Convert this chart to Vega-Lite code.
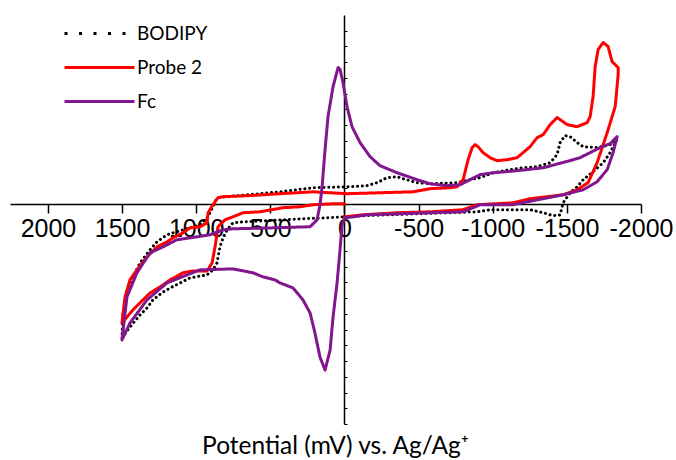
{
  "$schema": "https://vega.github.io/schema/vega-lite/v6.json",
  "width": 631,
  "height": 409,
  "autosize": {"type": "none"},
  "padding": {"left": 10, "top": 15, "right": 35, "bottom": 36},
  "background": "white",
  "config": {"view": {"stroke": null}, "font": "Liberation Sans"},
  "title": {
    "text": "Potential (mV) vs. Ag/Ag⁺",
    "orient": "bottom",
    "anchor": "middle",
    "dx": 10,
    "offset": 10,
    "font": "Lato",
    "fontSize": 24.5,
    "fontWeight": "normal",
    "color": "#000000"
  },
  "data": {
    "values": [
      {"s": "BODIPY", "i": 1, "E": 0, "I": -0.83},
      {"s": "BODIPY", "i": 2, "E": -125, "I": -0.76},
      {"s": "BODIPY", "i": 3, "E": -490, "I": -0.64},
      {"s": "BODIPY", "i": 4, "E": -894, "I": -0.51},
      {"s": "BODIPY", "i": 5, "E": -982, "I": -0.38},
      {"s": "BODIPY", "i": 6, "E": -1252, "I": -0.38},
      {"s": "BODIPY", "i": 7, "E": -1340, "I": -0.57},
      {"s": "BODIPY", "i": 8, "E": -1387, "I": -0.70},
      {"s": "BODIPY", "i": 9, "E": -1434, "I": -0.76},
      {"s": "BODIPY", "i": 10, "E": -1454, "I": -0.70},
      {"s": "BODIPY", "i": 11, "E": -1475, "I": 0.06},
      {"s": "BODIPY", "i": 12, "E": -1488, "I": 0.25},
      {"s": "BODIPY", "i": 13, "E": -1522, "I": 0.70},
      {"s": "BODIPY", "i": 14, "E": -1569, "I": 1.08},
      {"s": "BODIPY", "i": 15, "E": -1610, "I": 1.53},
      {"s": "BODIPY", "i": 16, "E": -1677, "I": 2.04},
      {"s": "BODIPY", "i": 17, "E": -1745, "I": 2.61},
      {"s": "BODIPY", "i": 18, "E": -1792, "I": 3.25},
      {"s": "BODIPY", "i": 19, "E": -1826, "I": 3.89},
      {"s": "BODIPY", "i": 20, "E": -1839, "I": 4.08},
      {"s": "BODIPY", "i": 21, "E": -1792, "I": 3.76},
      {"s": "BODIPY", "i": 22, "E": -1704, "I": 3.57},
      {"s": "BODIPY", "i": 23, "E": -1610, "I": 3.63},
      {"s": "BODIPY", "i": 24, "E": -1569, "I": 3.89},
      {"s": "BODIPY", "i": 25, "E": -1522, "I": 4.27},
      {"s": "BODIPY", "i": 26, "E": -1488, "I": 4.33},
      {"s": "BODIPY", "i": 27, "E": -1454, "I": 3.89},
      {"s": "BODIPY", "i": 28, "E": -1434, "I": 3.12},
      {"s": "BODIPY", "i": 29, "E": -1387, "I": 2.61},
      {"s": "BODIPY", "i": 30, "E": -1299, "I": 2.36},
      {"s": "BODIPY", "i": 31, "E": -1205, "I": 2.29},
      {"s": "BODIPY", "i": 32, "E": -1117, "I": 2.17},
      {"s": "BODIPY", "i": 33, "E": -1002, "I": 1.97},
      {"s": "BODIPY", "i": 34, "E": -915, "I": 1.66},
      {"s": "BODIPY", "i": 35, "E": -847, "I": 1.53},
      {"s": "BODIPY", "i": 36, "E": -760, "I": 1.34},
      {"s": "BODIPY", "i": 37, "E": -577, "I": 1.27},
      {"s": "BODIPY", "i": 38, "E": -490, "I": 1.34},
      {"s": "BODIPY", "i": 39, "E": -395, "I": 1.59},
      {"s": "BODIPY", "i": 40, "E": -355, "I": 1.72},
      {"s": "BODIPY", "i": 41, "E": -287, "I": 1.66},
      {"s": "BODIPY", "i": 42, "E": -220, "I": 1.34},
      {"s": "BODIPY", "i": 43, "E": -152, "I": 1.15},
      {"s": "BODIPY", "i": 44, "E": -38, "I": 1.08},
      {"s": "BODIPY", "i": 45, "E": 212, "I": 1.02},
      {"s": "BODIPY", "i": 46, "E": 435, "I": 0.76},
      {"s": "BODIPY", "i": 47, "E": 657, "I": 0.57},
      {"s": "BODIPY", "i": 48, "E": 792, "I": 0.45},
      {"s": "BODIPY", "i": 49, "E": 860, "I": 0.38},
      {"s": "BODIPY", "i": 50, "E": 907, "I": -0.57},
      {"s": "BODIPY", "i": 51, "E": 927, "I": -0.89},
      {"s": "BODIPY", "i": 52, "E": 974, "I": -1.34},
      {"s": "BODIPY", "i": 53, "E": 1089, "I": -1.66},
      {"s": "BODIPY", "i": 54, "E": 1197, "I": -1.97},
      {"s": "BODIPY", "i": 55, "E": 1265, "I": -2.42},
      {"s": "BODIPY", "i": 56, "E": 1312, "I": -2.93},
      {"s": "BODIPY", "i": 57, "E": 1379, "I": -3.76},
      {"s": "BODIPY", "i": 58, "E": 1427, "I": -4.65},
      {"s": "BODIPY", "i": 59, "E": 1467, "I": -5.48},
      {"s": "BODIPY", "i": 60, "E": 1494, "I": -6.94},
      {"s": "BODIPY", "i": 61, "E": 1501, "I": -8.54},
      {"s": "BODIPY", "i": 62, "E": 1447, "I": -7.83},
      {"s": "BODIPY", "i": 63, "E": 1379, "I": -7.07},
      {"s": "BODIPY", "i": 64, "E": 1332, "I": -6.62},
      {"s": "BODIPY", "i": 65, "E": 1292, "I": -6.11},
      {"s": "BODIPY", "i": 66, "E": 1224, "I": -5.61},
      {"s": "BODIPY", "i": 67, "E": 1163, "I": -5.29},
      {"s": "BODIPY", "i": 68, "E": 1109, "I": -5.03},
      {"s": "BODIPY", "i": 69, "E": 1042, "I": -4.71},
      {"s": "BODIPY", "i": 70, "E": 927, "I": -4.52},
      {"s": "BODIPY", "i": 71, "E": 887, "I": -4.20},
      {"s": "BODIPY", "i": 72, "E": 860, "I": -3.76},
      {"s": "BODIPY", "i": 73, "E": 840, "I": -2.74},
      {"s": "BODIPY", "i": 74, "E": 819, "I": -2.17},
      {"s": "BODIPY", "i": 75, "E": 792, "I": -1.66},
      {"s": "BODIPY", "i": 76, "E": 752, "I": -1.21},
      {"s": "BODIPY", "i": 77, "E": 684, "I": -1.15},
      {"s": "BODIPY", "i": 78, "E": 522, "I": -1.08},
      {"s": "BODIPY", "i": 79, "E": 300, "I": -0.96},
      {"s": "BODIPY", "i": 80, "E": 118, "I": -0.89},
      {"s": "BODIPY", "i": 81, "E": 0, "I": -0.83},

      {"s": "Probe 2", "i": 1, "E": 0, "I": -0.83},
      {"s": "Probe 2", "i": 2, "E": -125, "I": -0.70},
      {"s": "Probe 2", "i": 3, "E": -355, "I": -0.57},
      {"s": "Probe 2", "i": 4, "E": -577, "I": -0.51},
      {"s": "Probe 2", "i": 5, "E": -800, "I": -0.38},
      {"s": "Probe 2", "i": 6, "E": -894, "I": -0.06},
      {"s": "Probe 2", "i": 7, "E": -1137, "I": 0.06},
      {"s": "Probe 2", "i": 8, "E": -1252, "I": 0.32},
      {"s": "Probe 2", "i": 9, "E": -1475, "I": 0.57},
      {"s": "Probe 2", "i": 10, "E": -1569, "I": 0.89},
      {"s": "Probe 2", "i": 11, "E": -1643, "I": 1.34},
      {"s": "Probe 2", "i": 12, "E": -1704, "I": 2.61},
      {"s": "Probe 2", "i": 13, "E": -1772, "I": 4.52},
      {"s": "Probe 2", "i": 14, "E": -1826, "I": 6.18},
      {"s": "Probe 2", "i": 15, "E": -1846, "I": 8.22},
      {"s": "Probe 2", "i": 16, "E": -1846, "I": 8.66},
      {"s": "Probe 2", "i": 17, "E": -1805, "I": 9.04},
      {"s": "Probe 2", "i": 18, "E": -1778, "I": 10.0},
      {"s": "Probe 2", "i": 19, "E": -1745, "I": 10.25},
      {"s": "Probe 2", "i": 20, "E": -1711, "I": 9.81},
      {"s": "Probe 2", "i": 21, "E": -1691, "I": 8.73},
      {"s": "Probe 2", "i": 22, "E": -1677, "I": 6.82},
      {"s": "Probe 2", "i": 23, "E": -1657, "I": 5.54},
      {"s": "Probe 2", "i": 24, "E": -1637, "I": 5.16},
      {"s": "Probe 2", "i": 25, "E": -1569, "I": 4.90},
      {"s": "Probe 2", "i": 26, "E": -1502, "I": 5.03},
      {"s": "Probe 2", "i": 27, "E": -1454, "I": 5.35},
      {"s": "Probe 2", "i": 28, "E": -1434, "I": 5.48},
      {"s": "Probe 2", "i": 29, "E": -1387, "I": 5.03},
      {"s": "Probe 2", "i": 30, "E": -1340, "I": 4.39},
      {"s": "Probe 2", "i": 31, "E": -1299, "I": 4.20},
      {"s": "Probe 2", "i": 32, "E": -1252, "I": 3.63},
      {"s": "Probe 2", "i": 33, "E": -1205, "I": 3.25},
      {"s": "Probe 2", "i": 34, "E": -1164, "I": 2.93},
      {"s": "Probe 2", "i": 35, "E": -1097, "I": 2.80},
      {"s": "Probe 2", "i": 36, "E": -1029, "I": 2.74},
      {"s": "Probe 2", "i": 37, "E": -982, "I": 2.93},
      {"s": "Probe 2", "i": 38, "E": -935, "I": 3.25},
      {"s": "Probe 2", "i": 39, "E": -901, "I": 3.63},
      {"s": "Probe 2", "i": 40, "E": -881, "I": 3.76},
      {"s": "Probe 2", "i": 41, "E": -861, "I": 3.57},
      {"s": "Probe 2", "i": 42, "E": -834, "I": 2.80},
      {"s": "Probe 2", "i": 43, "E": -800, "I": 1.53},
      {"s": "Probe 2", "i": 44, "E": -760, "I": 1.08},
      {"s": "Probe 2", "i": 45, "E": -712, "I": 1.02},
      {"s": "Probe 2", "i": 46, "E": -577, "I": 0.96},
      {"s": "Probe 2", "i": 47, "E": -463, "I": 0.76},
      {"s": "Probe 2", "i": 48, "E": -240, "I": 0.70},
      {"s": "Probe 2", "i": 49, "E": -17, "I": 0.64},
      {"s": "Probe 2", "i": 50, "E": 212, "I": 0.76},
      {"s": "Probe 2", "i": 51, "E": 320, "I": 0.70},
      {"s": "Probe 2", "i": 52, "E": 435, "I": 0.64},
      {"s": "Probe 2", "i": 53, "E": 657, "I": 0.51},
      {"s": "Probe 2", "i": 54, "E": 819, "I": 0.45},
      {"s": "Probe 2", "i": 55, "E": 853, "I": 0.38},
      {"s": "Probe 2", "i": 56, "E": 887, "I": -0.06},
      {"s": "Probe 2", "i": 57, "E": 920, "I": -0.57},
      {"s": "Probe 2", "i": 58, "E": 927, "I": -1.21},
      {"s": "Probe 2", "i": 59, "E": 974, "I": -1.46},
      {"s": "Probe 2", "i": 60, "E": 1042, "I": -1.53},
      {"s": "Probe 2", "i": 61, "E": 1089, "I": -1.85},
      {"s": "Probe 2", "i": 62, "E": 1157, "I": -2.17},
      {"s": "Probe 2", "i": 63, "E": 1197, "I": -2.42},
      {"s": "Probe 2", "i": 64, "E": 1265, "I": -2.74},
      {"s": "Probe 2", "i": 65, "E": 1332, "I": -3.38},
      {"s": "Probe 2", "i": 66, "E": 1400, "I": -4.20},
      {"s": "Probe 2", "i": 67, "E": 1447, "I": -4.84},
      {"s": "Probe 2", "i": 68, "E": 1480, "I": -5.92},
      {"s": "Probe 2", "i": 69, "E": 1501, "I": -7.58},
      {"s": "Probe 2", "i": 70, "E": 1467, "I": -7.20},
      {"s": "Probe 2", "i": 71, "E": 1427, "I": -6.75},
      {"s": "Probe 2", "i": 72, "E": 1359, "I": -6.11},
      {"s": "Probe 2", "i": 73, "E": 1312, "I": -5.67},
      {"s": "Probe 2", "i": 74, "E": 1244, "I": -5.29},
      {"s": "Probe 2", "i": 75, "E": 1177, "I": -4.84},
      {"s": "Probe 2", "i": 76, "E": 1089, "I": -4.39},
      {"s": "Probe 2", "i": 77, "E": 1022, "I": -4.27},
      {"s": "Probe 2", "i": 78, "E": 927, "I": -4.27},
      {"s": "Probe 2", "i": 79, "E": 893, "I": -3.76},
      {"s": "Probe 2", "i": 80, "E": 873, "I": -2.74},
      {"s": "Probe 2", "i": 81, "E": 853, "I": -1.46},
      {"s": "Probe 2", "i": 82, "E": 806, "I": -1.02},
      {"s": "Probe 2", "i": 83, "E": 752, "I": -0.83},
      {"s": "Probe 2", "i": 84, "E": 684, "I": -0.57},
      {"s": "Probe 2", "i": 85, "E": 570, "I": -0.51},
      {"s": "Probe 2", "i": 86, "E": 414, "I": -0.25},
      {"s": "Probe 2", "i": 87, "E": 300, "I": -0.19},
      {"s": "Probe 2", "i": 88, "E": 212, "I": -0.06},
      {"s": "Probe 2", "i": 89, "E": 77, "I": 0},
      {"s": "Probe 2", "i": 90, "E": 0, "I": 0},

      {"s": "Fc", "i": 1, "E": -4, "I": -0.89},
      {"s": "Fc", "i": 2, "E": -58, "I": -0.83},
      {"s": "Fc", "i": 3, "E": -152, "I": -0.70},
      {"s": "Fc", "i": 4, "E": -355, "I": -0.64},
      {"s": "Fc", "i": 5, "E": -577, "I": -0.57},
      {"s": "Fc", "i": 6, "E": -800, "I": -0.51},
      {"s": "Fc", "i": 7, "E": -867, "I": -0.25},
      {"s": "Fc", "i": 8, "E": -915, "I": -0.06},
      {"s": "Fc", "i": 9, "E": -1137, "I": -0.06},
      {"s": "Fc", "i": 10, "E": -1299, "I": 0.25},
      {"s": "Fc", "i": 11, "E": -1475, "I": 0.57},
      {"s": "Fc", "i": 12, "E": -1610, "I": 0.89},
      {"s": "Fc", "i": 13, "E": -1704, "I": 1.40},
      {"s": "Fc", "i": 14, "E": -1772, "I": 2.17},
      {"s": "Fc", "i": 15, "E": -1812, "I": 3.25},
      {"s": "Fc", "i": 16, "E": -1839, "I": 4.27},
      {"s": "Fc", "i": 17, "E": -1792, "I": 3.82},
      {"s": "Fc", "i": 18, "E": -1724, "I": 3.57},
      {"s": "Fc", "i": 19, "E": -1657, "I": 3.25},
      {"s": "Fc", "i": 20, "E": -1589, "I": 2.93},
      {"s": "Fc", "i": 21, "E": -1522, "I": 2.74},
      {"s": "Fc", "i": 22, "E": -1340, "I": 2.29},
      {"s": "Fc", "i": 23, "E": -1164, "I": 2.10},
      {"s": "Fc", "i": 24, "E": -1002, "I": 1.97},
      {"s": "Fc", "i": 25, "E": -915, "I": 1.85},
      {"s": "Fc", "i": 26, "E": -847, "I": 1.53},
      {"s": "Fc", "i": 27, "E": -780, "I": 1.21},
      {"s": "Fc", "i": 28, "E": -692, "I": 1.15},
      {"s": "Fc", "i": 29, "E": -577, "I": 1.27},
      {"s": "Fc", "i": 30, "E": -490, "I": 1.53},
      {"s": "Fc", "i": 31, "E": -355, "I": 1.97},
      {"s": "Fc", "i": 32, "E": -240, "I": 2.42},
      {"s": "Fc", "i": 33, "E": -173, "I": 2.99},
      {"s": "Fc", "i": 34, "E": -105, "I": 3.89},
      {"s": "Fc", "i": 35, "E": -51, "I": 4.90},
      {"s": "Fc", "i": 36, "E": -17, "I": 6.18},
      {"s": "Fc", "i": 37, "E": 10, "I": 7.71},
      {"s": "Fc", "i": 38, "E": 30, "I": 8.54},
      {"s": "Fc", "i": 39, "E": 43, "I": 8.66},
      {"s": "Fc", "i": 40, "E": 77, "I": 7.45},
      {"s": "Fc", "i": 41, "E": 111, "I": 5.54},
      {"s": "Fc", "i": 42, "E": 131, "I": 3.44},
      {"s": "Fc", "i": 43, "E": 151, "I": 1.08},
      {"s": "Fc", "i": 44, "E": 165, "I": -0.06},
      {"s": "Fc", "i": 45, "E": 185, "I": -1.02},
      {"s": "Fc", "i": 46, "E": 232, "I": -1.46},
      {"s": "Fc", "i": 47, "E": 482, "I": -1.53},
      {"s": "Fc", "i": 48, "E": 752, "I": -1.59},
      {"s": "Fc", "i": 49, "E": 819, "I": -1.66},
      {"s": "Fc", "i": 50, "E": 907, "I": -1.97},
      {"s": "Fc", "i": 51, "E": 995, "I": -2.10},
      {"s": "Fc", "i": 52, "E": 1130, "I": -2.29},
      {"s": "Fc", "i": 53, "E": 1224, "I": -2.74},
      {"s": "Fc", "i": 54, "E": 1312, "I": -3.12},
      {"s": "Fc", "i": 55, "E": 1400, "I": -4.39},
      {"s": "Fc", "i": 56, "E": 1467, "I": -5.92},
      {"s": "Fc", "i": 57, "E": 1501, "I": -8.66},
      {"s": "Fc", "i": 58, "E": 1447, "I": -7.58},
      {"s": "Fc", "i": 59, "E": 1332, "I": -6.11},
      {"s": "Fc", "i": 60, "E": 1197, "I": -5.03},
      {"s": "Fc", "i": 61, "E": 1062, "I": -4.52},
      {"s": "Fc", "i": 62, "E": 974, "I": -4.20},
      {"s": "Fc", "i": 63, "E": 752, "I": -4.14},
      {"s": "Fc", "i": 64, "E": 617, "I": -4.39},
      {"s": "Fc", "i": 65, "E": 549, "I": -4.65},
      {"s": "Fc", "i": 66, "E": 468, "I": -4.84},
      {"s": "Fc", "i": 67, "E": 435, "I": -5.03},
      {"s": "Fc", "i": 68, "E": 347, "I": -5.35},
      {"s": "Fc", "i": 69, "E": 280, "I": -6.11},
      {"s": "Fc", "i": 70, "E": 232, "I": -6.94},
      {"s": "Fc", "i": 71, "E": 199, "I": -8.22},
      {"s": "Fc", "i": 72, "E": 165, "I": -9.75},
      {"s": "Fc", "i": 73, "E": 131, "I": -10.57},
      {"s": "Fc", "i": 74, "E": 97, "I": -9.30},
      {"s": "Fc", "i": 75, "E": 77, "I": -7.20},
      {"s": "Fc", "i": 76, "E": 50, "I": -5.03},
      {"s": "Fc", "i": 77, "E": 30, "I": -2.93},
      {"s": "Fc", "i": 78, "E": 16, "I": -1.34},
      {"s": "Fc", "i": 79, "E": -4, "I": -0.89}
    ]
  },
  "mark": {"type": "line", "strokeWidth": 3, "strokeCap": "round", "strokeJoin": "round"},
  "encoding": {
    "x": {
      "field": "E",
      "type": "quantitative",
      "scale": {"domain": [-2000, 2256], "reverse": true, "nice": false, "zero": false},
      "axis": {
        "orient": "bottom",
        "offset": -220,
        "values": [2000, 1500, 1000, 500, 0, -500, -1000, -1500, -2000],
        "title": null,
        "grid": false,
        "domainColor": "#000000",
        "domainWidth": 1.5,
        "tickColor": "#000000",
        "tickWidth": 1.5,
        "tickSize": 9,
        "labelFont": "Liberation Sans",
        "labelFontSize": 25,
        "labelColor": "#000000",
        "labelPadding": 3,
        "labelOverlap": false,
        "labelFlush": false,
        "labelExpr": "datum.value < 0 ? '-' + abs(datum.value) : '' + datum.value"
      }
    },
    "y": {
      "field": "I",
      "type": "quantitative",
      "scale": {"domain": [-14, 12], "nice": false, "zero": false},
      "axis": {
        "orient": "right",
        "offset": -297,
        "values": [-14, -13, -12, -11, -10, -9, -8, -7, -6, -5, -4, -3, -2, -1, 1, 2, 3, 4, 5, 6, 7, 8, 9, 10, 11],
        "labels": false,
        "title": null,
        "grid": false,
        "domainColor": "#000000",
        "domainWidth": 1.5,
        "tickColor": "#000000",
        "tickWidth": 1,
        "tickSize": 3
      }
    },
    "color": {
      "field": "s",
      "type": "nominal",
      "scale": {"domain": ["BODIPY", "Probe 2", "Fc"], "range": ["#000000", "#FF0000", "#81168D"]},
      "legend": {
        "orient": "none",
        "legendX": 76,
        "legendY": 5,
        "title": null,
        "padding": 0,
        "symbolType": "M-3,0H3",
        "symbolSize": 544,
        "symbolStrokeWidth": 3,
        "symbolFillColor": "transparent",
        "labelFont": "Lato",
        "labelFontSize": 19,
        "labelColor": "#000000",
        "labelOffset": 24,
        "rowPadding": 10,
        "encode": {
          "symbols": {
            "update": {
              "strokeDash": {"signal": "datum.value === 'BODIPY' ? [3, 11.5] : [1, 0]"},
              "strokeCap": {"value": "butt"},
              "fill": {"value": "transparent"}
            }
          }
        }
      }
    },
    "strokeDash": {
      "condition": {"test": "datum.s === 'BODIPY'", "value": [0.1, 4.7]},
      "value": [1, 0]
    },
    "order": {"field": "i", "type": "quantitative"}
  }
}
